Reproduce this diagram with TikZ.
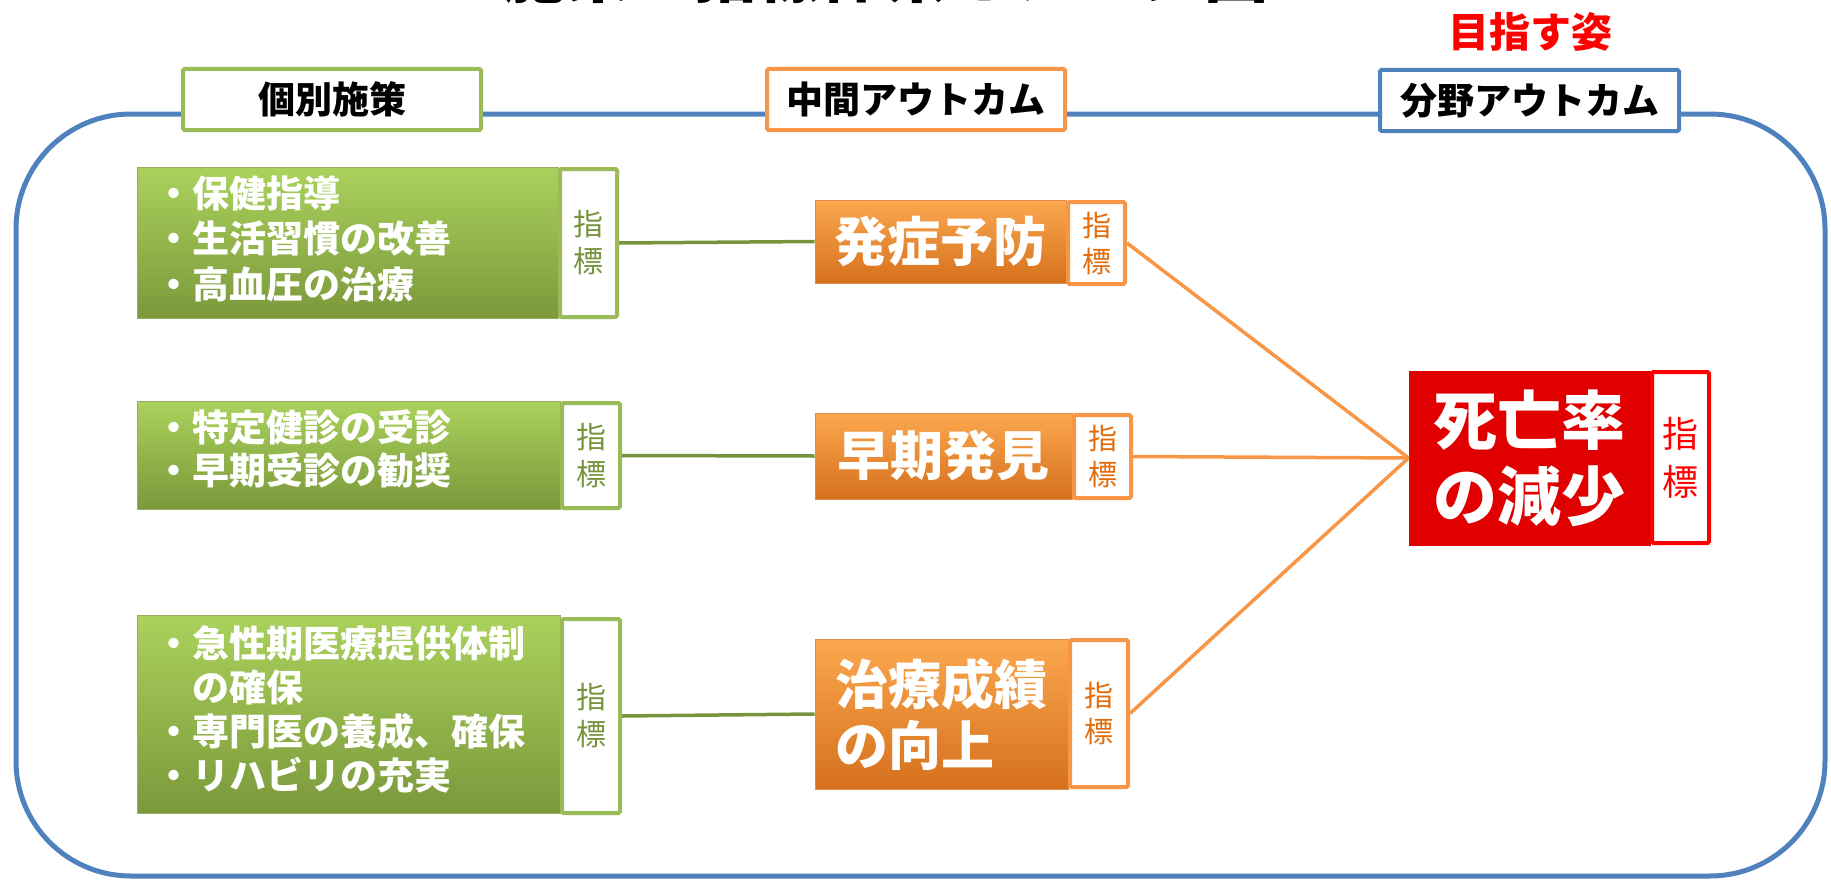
\documentclass[tikz,border=0pt]{standalone}
\usepackage{fontspec}
\setmainfont{Noto Sans CJK JP}
\definecolor{blueline}{HTML}{4F81BD}
\definecolor{grn}{HTML}{9BBB59}
\definecolor{grnd}{HTML}{77933C}
\definecolor{grntop}{HTML}{AAD25C}
\definecolor{grnmid}{HTML}{98BC50}
\definecolor{grnbot}{HTML}{7B983B}
\definecolor{org}{HTML}{F79646}
\definecolor{orgd}{HTML}{E46C0A}
\definecolor{orgtop}{HTML}{FBA84F}
\definecolor{orgmid}{HTML}{F28B30}
\definecolor{orgbot}{HTML}{D6701D}
\definecolor{rd}{HTML}{FF0000}
\definecolor{rdd}{HTML}{E00000}
\tikzset{
  hdr/.style={draw, line width=4pt, fill=white, rounded corners=1.5pt, inner sep=0pt,
    font=\bfseries\fontsize{37}{40}\selectfont, text=black},
  ibox/.style={draw, line width=4pt, fill=white, rounded corners=1.5pt, inner sep=0pt, align=center},
  gbox/.style={rectangle, inner sep=0pt, top color=grntop, middle color=grnmid, bottom color=grnbot,
    draw=grnbot!80!white, line width=1pt},
  gtext/.style={anchor=west, inner sep=0pt, text=white, align=left, text width=420pt},
  obox/.style={rectangle, inner sep=0pt, top color=orgtop, middle color=orgmid, bottom color=orgbot,
    draw=orgbot!80!white, line width=1pt, text=white, align=left},
  glink/.style={draw=grnd, line width=3.5pt},
  olink/.style={draw=org, line width=3.5pt},
}
\begin{document}
\begin{tikzpicture}[x=1pt,y=-1pt]
\useasboundingbox (0,0) rectangle (1831,883);
\clip (0,0) rectangle (1831,883);

% title (mostly cut off at the top, as in the reference)
\node[font=\bfseries\fontsize{64}{70}\selectfont, anchor=base, inner sep=0pt] (title) at (885,-2) {施策・指標体系イメージ図};

% outer frame
\draw[blueline, line width=5pt, rounded corners=115pt] (16,114) rectangle (1825,876);

% headers
\node[hdr, draw=grn, minimum width=298pt, minimum height=61pt] (h1) at (332,99.5) {個別施策};
\node[hdr, draw=org, minimum width=298pt, minimum height=61pt] (h2) at (916,99.5) {中間アウトカム};
\node[hdr, draw=blueline, minimum width=299pt, minimum height=61pt] (h3) at (1529.5,100.5) {分野アウトカム};
\node[font=\bfseries\fontsize{41}{44}\selectfont, text=rd, inner sep=0pt] (goal) at (1530,32) {目指す姿};

% individual measures
\node[gbox, minimum width=421pt, minimum height=151pt] (g1) at (347.5,242.5) {};
\node[gtext, font=\bfseries\fontsize{37}{45.5}\selectfont] (g1t) at (155,238.5)
  {・保健指導\\・生活習慣の改善\\・高血圧の治療};
\node[ibox, draw=grn, text=grnd, font=\fontsize{30}{37}\selectfont, minimum width=57pt, minimum height=148pt] (gi1) at (588.5,243) {指\\標};

\node[gbox, minimum width=423pt, minimum height=108pt] (g2) at (348.5,455) {};
\node[gtext, font=\bfseries\fontsize{37}{43}\selectfont] (g2t) at (155,448.5)
  {・特定健診の受診\\・早期受診の勧奨};
\node[ibox, draw=grn, text=grnd, font=\fontsize{30}{37}\selectfont, minimum width=58pt, minimum height=105pt] (gi2) at (591,455.5) {指\\標};

\node[gbox, minimum width=423pt, minimum height=198pt] (g3) at (348.5,714) {};
\node[gtext, font=\bfseries\fontsize{37}{44}\selectfont] (g3t) at (155,709.5)
  {・急性期医療提供体制\\\hspace*{1em}の確保\\・専門医の養成、確保\\・リハビリの充実};
\node[ibox, draw=grn, text=grnd, font=\fontsize{30}{37}\selectfont, minimum width=58pt, minimum height=194pt] (gi3) at (591,716) {指\\標};

% intermediate outcomes
\node[obox, font=\bfseries\fontsize{53}{61}\selectfont, minimum width=251pt, minimum height=83pt] (o1) at (940.5,241.5) {発症予防};
\node[ibox, draw=org, text=orgd, font=\fontsize{29}{36}\selectfont, minimum width=57pt, minimum height=82pt] (oi1) at (1096.5,243) {指\\標};

\node[obox, font=\bfseries\fontsize{53}{61}\selectfont, minimum width=257pt, minimum height=86pt] (o2) at (943.5,456) {早期発見};
\node[ibox, draw=org, text=orgd, font=\fontsize{29}{36}\selectfont, minimum width=57pt, minimum height=83pt] (oi2) at (1102.5,456.5) {指\\標};

\node[obox, font=\bfseries\fontsize{53}{61}\selectfont, minimum width=253pt, minimum height=150pt] (o3) at (941.5,714) {治療成績\\の向上};
\node[ibox, draw=org, text=orgd, font=\fontsize{29}{36}\selectfont, minimum width=58pt, minimum height=147pt] (oi3) at (1099,713.5) {指\\標};

% field outcome
\node[rectangle, inner sep=0pt, top color=rdd, middle color=rd, bottom color=rdd, draw=rdd, line width=1pt,
  text=white, align=left, font=\bfseries\fontsize{64}{76}\selectfont,
  minimum width=241pt, minimum height=174pt] (r) at (1529.5,458) {死亡率\\の減少};
\node[ibox, draw=rd, text=rd, font=\fontsize{36}{48}\selectfont, minimum width=57pt, minimum height=171pt] (ri) at (1680.5,457.5) {指\\標};

% connectors
\draw[glink] (gi1.east) -- (o1.west);
\draw[glink] (gi2.east) -- (o2.west);
\draw[glink] (gi3.east) -- (o3.west);
\draw[olink] (oi1.east) -- (r.west);
\draw[olink] (oi2.east) -- (r.west);
\draw[olink] (oi3.east) -- (r.west);
\end{tikzpicture}
\end{document}
